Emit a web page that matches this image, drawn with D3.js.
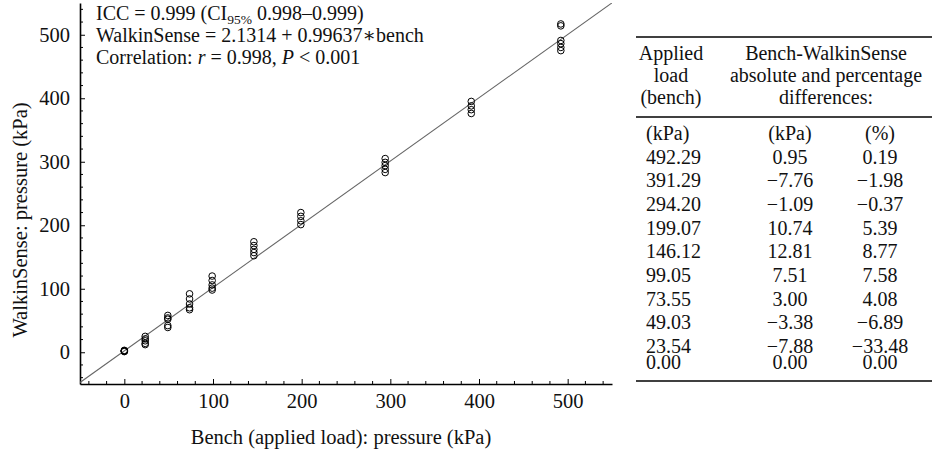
<!doctype html>
<html lang="en">
    <head>
        <meta charset="utf-8">
        <title>WalkinSense vs bench</title>
        <style>
            body { margin: 0; background: #fff; }
            svg text { font-family: "Liberation Serif", "DejaVu Serif", serif; fill: #111; }
        </style>
    </head>

    <body>
        <script src="https://cdnjs.cloudflare.com/ajax/libs/d3/7.8.5/d3.min.js"></script>
        <script>

            // applied load on the bench (kPa), one group of readings per load
            var benchLoad = [0, 23.54, 49.03, 73.55, 99.05, 146.12, 199.07, 294.20, 391.29, 492.29];

            // WalkinSense readings (kPa), per bench load
            var walkinSense = [
                [1, 2, 2, 3, 2],
                [25, 21, 18, 14, 12],
                [58, 54, 52, 42, 39],
                [92, 84, 76, 70, 67],
                [120, 113, 106, 101, 98],
                [174, 168, 162, 157, 152],
                [220, 214, 207, 201],
                [305, 299, 294, 288, 283],
                [395, 388, 382, 376],
                [517, 514, 491, 486, 480, 475]
            ];

            // regression line
            var intercept = 2.1314;
            var slope = 0.99637;

            var xTicks = [0, 100, 200, 300, 400, 500];
            var yTicks = [0, 100, 200, 300, 400, 500];

            var notes = ["ICC = 0.999 (CI", "WalkinSense = 2.1314 + 0.99637\u2217bench", "Correlation: "];

            // table on the right
            var tableLoad = ["492.29", "391.29", "294.20", "199.07", "146.12", "99.05", "73.55", "49.03", "23.54", "0.00"];
            var tableDiffKpa = ["0.95", "\u22127.76", "\u22121.09", "10.74", "12.81", "7.51", "3.00", "\u22123.38", "\u22127.88", "0.00"];
            var tableDiffPct = ["0.19", "\u22121.98", "\u22120.37", "5.39", "8.77", "7.58", "4.08", "\u22126.89", "\u221233.48", "0.00"];

            var w = 932;
            var h = 450;
            var fs = 20.5;

            var svg = d3.select("body")
                        .append("svg")
                        .attr("width", w)
                        .attr("height", h);

            var pLeft = 80, pRight = 612, pTop = 3, pBottom = 384;

            var x = d3.scaleLinear().domain([-50, 550]).range([pLeft, pRight]);
            var y = d3.scaleLinear().domain([-50, 550]).range([pBottom, pTop]);

            svg.append("clipPath").attr("id", "plotclip")
               .append("rect")
               .attr("x", pLeft).attr("y", pTop)
               .attr("width", pRight - pLeft).attr("height", pBottom - pTop);

            // minor ticks every 20, major every 100, pointing inward
            var minor = d3.range(-40, 551, 20).filter(function(d) { return d % 100 !== 0; });

            var xAxis = svg.append("g").attr("transform", "translate(0," + pBottom + ")");
            xAxis.selectAll("line.minor").data(minor).enter().append("line")
                 .attr("x1", function(d) { return x(d); }).attr("x2", function(d) { return x(d); })
                 .attr("y1", 0).attr("y2", -3).attr("stroke", "#000");
            xAxis.call(d3.axisBottom(x).tickValues(xTicks).tickSizeInner(-5).tickSizeOuter(0).tickPadding(9.5));

            var yAxis = svg.append("g").attr("transform", "translate(" + pLeft + ",0)");
            yAxis.selectAll("line.minor").data(minor).enter().append("line")
                 .attr("y1", function(d) { return y(d); }).attr("y2", function(d) { return y(d); })
                 .attr("x1", 0).attr("x2", 3).attr("stroke", "#000");
            yAxis.call(d3.axisLeft(y).tickValues(yTicks).tickSizeInner(-5).tickSizeOuter(0).tickPadding(10));

            svg.selectAll(".domain").attr("stroke", "#000").attr("stroke-width", 1.6);
            svg.selectAll(".tick line").attr("stroke", "#000");
            svg.selectAll(".tick text")
               .attr("font-family", "Liberation Serif")
               .attr("font-size", fs)
               .attr("fill", "#111");

            // regression line
            svg.append("line")
               .attr("clip-path", "url(#plotclip)")
               .attr("x1", x(-50)).attr("y1", y(intercept + slope * -50))
               .attr("x2", x(560)).attr("y2", y(intercept + slope * 560))
               .attr("stroke", "#666")
               .attr("stroke-width", 1.1);

            // points
            var points = [];
            benchLoad.forEach(function(b, i) {
                walkinSense[i].forEach(function(v) { points.push([b, v]); });
            });

            svg.append("g").selectAll("circle")
               .data(points)
               .enter()
               .append("circle")
               .attr("cx", function(d) { return x(d[0]); })
               .attr("cy", function(d) { return y(d[1]); })
               .attr("r", 3.3)
               .attr("fill", "none")
               .attr("stroke", "#000")
               .attr("stroke-width", 1);

            // annotation
            var ann = svg.append("g").attr("font-size", 20);
            var t1 = ann.append("text").attr("x", 96).attr("y", 20);
            t1.append("tspan").text(notes[0]);
            t1.append("tspan").attr("font-size", 13.5).attr("dy", 4).text("95%");
            t1.append("tspan").attr("dy", -4).text(" 0.998\u20130.999)");
            ann.append("text").attr("x", 96).attr("y", 42).text(notes[1]);
            var t3 = ann.append("text").attr("x", 96).attr("y", 64);
            t3.append("tspan").text(notes[2]);
            t3.append("tspan").attr("font-style", "italic").text("r");
            t3.append("tspan").text(" = 0.998, ");
            t3.append("tspan").attr("font-style", "italic").text("P");
            t3.append("tspan").text(" < 0.001");

            // axis titles
            svg.append("text")
               .attr("x", 341).attr("y", 444)
               .attr("text-anchor", "middle")
               .attr("font-size", fs)
               .text("Bench (applied load): pressure (kPa)");

            svg.append("text")
               .attr("transform", "translate(27,220) rotate(-90)")
               .attr("text-anchor", "middle")
               .attr("font-size", fs)
               .text("WalkinSense: pressure (kPa)");

            // table
            var tab = svg.append("g").attr("font-size", 20);
            var c1 = 671, c1left = 646, c2 = 790, c3 = 880, cHead = 826;
            var tl = 636, tr = 932;

            tab.append("line").attr("x1", tl).attr("x2", tr).attr("y1", 37).attr("y2", 37)
               .attr("stroke", "#000").attr("stroke-width", 1.5);
            tab.append("line").attr("x1", tl).attr("x2", tr).attr("y1", 117).attr("y2", 117)
               .attr("stroke", "#000").attr("stroke-width", 1.5);

            [["Applied", 60], ["load", 82], ["(bench)", 104]].forEach(function(r) {
                tab.append("text").attr("x", c1).attr("y", r[1]).attr("text-anchor", "middle").text(r[0]);
            });
            [["Bench-WalkinSense", 60], ["absolute and percentage", 82], ["differences:", 104]].forEach(function(r) {
                tab.append("text").attr("x", cHead).attr("y", r[1]).attr("text-anchor", "middle").text(r[0]);
            });

            var rowY = d3.scalePoint().domain(d3.range(9)).range([163.5, 353]);
            function yRow(i) { return i < 9 ? rowY(i) : rowY(8) + 16; }

            tab.append("text").attr("x", c1left).attr("y", 140).text("(kPa)");
            tab.append("text").attr("x", c2).attr("y", 140).attr("text-anchor", "middle").text("(kPa)");
            tab.append("text").attr("x", c3).attr("y", 140).attr("text-anchor", "middle").text("(%)");

            tableLoad.forEach(function(v, i) {
                tab.append("text").attr("x", c1left).attr("y", yRow(i)).text(v);
                tab.append("text").attr("x", c2).attr("y", yRow(i)).attr("text-anchor", "middle").text(tableDiffKpa[i]);
                tab.append("text").attr("x", c3).attr("y", yRow(i)).attr("text-anchor", "middle").text(tableDiffPct[i]);
            });

            tab.append("line").attr("x1", tl).attr("x2", tr).attr("y1", yRow(9) + 12).attr("y2", yRow(9) + 12)
               .attr("stroke", "#000").attr("stroke-width", 1.5);

        </script>
    </body>
</html>
